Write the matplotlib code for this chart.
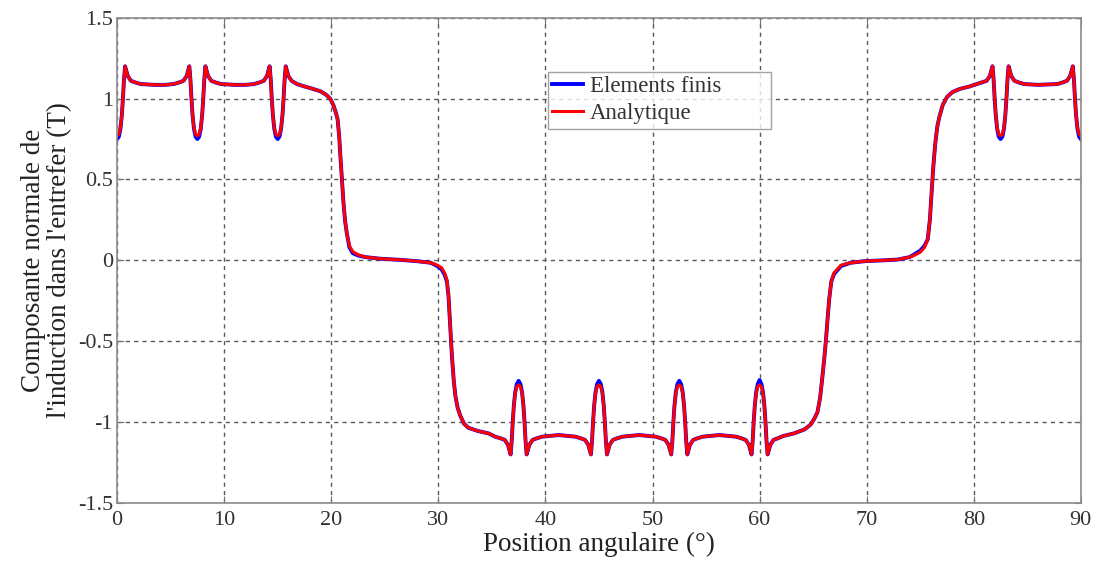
import matplotlib.pyplot as plt

# angular position (deg)
x_a = [0, 0.17, 0.32, 0.45, 0.55, 0.65, 0.75, 1.0, 1.3, 1.7, 2.2, 3.5, 4.5]
y_a = [0.77, 0.78, 0.82, 0.90, 1.00, 1.12, 1.20, 1.14, 1.11, 1.10, 1.09, 1.085, 1.085]
f_a = [0.75, 0.765, 0.815, 0.90, 1.00, 1.12, 1.20, 1.14, 1.11, 1.10, 1.09, 1.085, 1.085]

x_b = [5.3, 5.8, 6.2, 6.5, 6.75, 6.85, 6.95, 7.05, 7.18, 7.33, 7.5, 7.67, 7.82, 7.95, 8.05, 8.15, 8.25, 8.5, 8.8, 9.2, 9.7, 11.0, 12.0]
y_b = [1.09, 1.10, 1.11, 1.14, 1.20, 1.12, 1.00, 0.90, 0.82, 0.78, 0.77, 0.78, 0.82, 0.90, 1.00, 1.12, 1.20, 1.14, 1.11, 1.10, 1.09, 1.085, 1.085]
f_b = [1.09, 1.10, 1.11, 1.14, 1.20, 1.12, 1.00, 0.90, 0.815, 0.765, 0.75, 0.765, 0.815, 0.90, 1.00, 1.12, 1.20, 1.14, 1.11, 1.10, 1.09, 1.085, 1.085]

x_c = [12.8, 13.3, 13.7, 14.0, 14.25, 14.35, 14.45, 14.55, 14.68, 14.83, 15.0, 15.17, 15.32, 15.45, 15.55, 15.65, 15.75, 16.0, 16.3]
y_c = [1.09, 1.10, 1.11, 1.14, 1.20, 1.12, 1.00, 0.90, 0.82, 0.78, 0.77, 0.78, 0.82, 0.90, 1.00, 1.12, 1.20, 1.14, 1.11]
f_c = [1.09, 1.10, 1.11, 1.14, 1.20, 1.12, 1.00, 0.90, 0.815, 0.765, 0.75, 0.765, 0.815, 0.90, 1.00, 1.12, 1.20, 1.14, 1.11]

x_d = [16.8, 17.5, 18.3, 19.0, 19.5, 19.9, 20.2, 20.45, 20.6, 20.75, 20.85, 21.0, 21.15, 21.3, 21.45, 21.7, 22.0, 22.5, 23.2, 24.6, 26.5, 28.0]
y_d = [1.09, 1.075, 1.06, 1.045, 1.025, 1.0, 0.96, 0.91, 0.87, 0.76, 0.65, 0.5, 0.35, 0.24, 0.17, 0.09, 0.055, 0.035, 0.02, 0.01, 0.003, -0.005]
f_d = [1.09, 1.075, 1.06, 1.045, 1.025, 1.0, 0.96, 0.91, 0.87, 0.76, 0.65, 0.5, 0.35, 0.24, 0.17, 0.08, 0.045, 0.03, 0.02, 0.01, 0.003, -0.005]

x_e = [29.3, 29.9, 30.3, 30.6, 30.8, 30.95, 31.1, 31.27, 31.45, 31.6, 31.8, 32.05, 32.4, 32.8, 33.7, 34.7]
y_e = [-0.015, -0.03, -0.045, -0.08, -0.12, -0.22, -0.39, -0.59, -0.75, -0.84, -0.91, -0.96, -1.01, -1.035, -1.055, -1.07]
f_e = [-0.015, -0.035, -0.055, -0.09, -0.13, -0.22, -0.39, -0.59, -0.75, -0.84, -0.91, -0.96, -1.01, -1.035, -1.055, -1.07]

# negative plateau with four slot spikes (37.5, 45, 52.5, 60)
x_f = [35.3, 35.8, 36.2, 36.5, 36.75, 36.85, 36.95, 37.05, 37.18, 37.33, 37.5, 37.67, 37.82, 37.95, 38.05, 38.15, 38.25, 38.5, 38.8, 39.2, 39.7, 41.25,
       42.8, 43.3, 43.7, 44.0, 44.25, 44.35, 44.45, 44.55, 44.68, 44.83, 45.0, 45.17, 45.32, 45.45, 45.55, 45.65, 45.75, 46.0, 46.3, 46.7, 47.2, 48.75,
       50.3, 50.8, 51.2, 51.5, 51.75, 51.85, 51.95, 52.05, 52.18, 52.33, 52.5, 52.67, 52.82, 52.95, 53.05, 53.15, 53.25, 53.5, 53.8, 54.2, 54.7, 56.25,
       57.8, 58.3, 58.7, 59.0, 59.25, 59.35, 59.45, 59.55, 59.68, 59.83, 60.0, 60.17, 60.32, 60.45, 60.55, 60.65, 60.75, 61.0, 61.3]
y_f = [-1.09, -1.10, -1.11, -1.14, -1.20, -1.12, -1.00, -0.90, -0.82, -0.78, -0.77, -0.78, -0.82, -0.90, -1.00, -1.12, -1.20, -1.14, -1.11, -1.10, -1.09, -1.08,
       -1.09, -1.10, -1.11, -1.14, -1.20, -1.12, -1.00, -0.90, -0.82, -0.78, -0.77, -0.78, -0.82, -0.90, -1.00, -1.12, -1.20, -1.14, -1.11, -1.10, -1.09, -1.08,
       -1.09, -1.10, -1.11, -1.14, -1.20, -1.12, -1.00, -0.90, -0.82, -0.78, -0.77, -0.78, -0.82, -0.90, -1.00, -1.12, -1.20, -1.14, -1.11, -1.10, -1.09, -1.08,
       -1.09, -1.10, -1.11, -1.14, -1.20, -1.12, -1.00, -0.90, -0.82, -0.78, -0.77, -0.78, -0.82, -0.90, -1.00, -1.12, -1.20, -1.14, -1.11]
f_f = [-1.09, -1.10, -1.11, -1.14, -1.20, -1.12, -1.00, -0.90, -0.815, -0.765, -0.745, -0.765, -0.815, -0.90, -1.00, -1.12, -1.20, -1.14, -1.11, -1.10, -1.09, -1.08,
       -1.09, -1.10, -1.11, -1.14, -1.20, -1.12, -1.00, -0.90, -0.815, -0.765, -0.745, -0.765, -0.815, -0.90, -1.00, -1.12, -1.20, -1.14, -1.11, -1.10, -1.09, -1.08,
       -1.09, -1.10, -1.11, -1.14, -1.20, -1.12, -1.00, -0.90, -0.815, -0.765, -0.745, -0.765, -0.815, -0.90, -1.00, -1.12, -1.20, -1.14, -1.11, -1.10, -1.09, -1.08,
       -1.09, -1.10, -1.11, -1.14, -1.20, -1.12, -1.00, -0.90, -0.815, -0.765, -0.74, -0.765, -0.815, -0.90, -1.00, -1.12, -1.20, -1.14, -1.11]

x_g = [61.7, 62.2, 63.2, 64.2, 64.77, 65.1, 65.4, 65.65, 65.85, 66.05, 66.2, 66.35, 66.5, 66.7, 66.95, 67.6, 68.5, 69.8, 71.5, 72.9, 74.0, 74.4,
       75.0, 75.4, 75.7, 75.9, 76.05, 76.2, 76.4, 76.6, 76.8, 77.1, 77.5, 78.0, 78.7, 79.6, 80.3]
y_g = [-1.10, -1.086, -1.07, -1.045, -1.015, -0.98, -0.94, -0.85, -0.73, -0.6, -0.49, -0.36, -0.24, -0.13, -0.077, -0.03, -0.015, -0.005, 0.0, 0.005, 0.02, 0.03,
       0.05, 0.08, 0.13, 0.25, 0.4, 0.56, 0.72, 0.83, 0.89, 0.96, 1.01, 1.04, 1.06, 1.075, 1.09]
f_g = [-1.10, -1.086, -1.07, -1.045, -1.015, -0.98, -0.94, -0.85, -0.73, -0.6, -0.49, -0.36, -0.24, -0.13, -0.085, -0.035, -0.015, -0.005, 0.0, 0.005, 0.02, 0.035,
       0.06, 0.09, 0.13, 0.25, 0.4, 0.56, 0.72, 0.83, 0.89, 0.96, 1.01, 1.04, 1.06, 1.075, 1.09]

x_h = [80.8, 81.2, 81.5, 81.75, 81.85, 81.95, 82.05, 82.18, 82.33, 82.5, 82.67, 82.82, 82.95, 83.05, 83.15, 83.25, 83.5, 83.8, 84.2, 84.7, 86.0,
       87.8, 88.3, 88.7, 89.0, 89.25, 89.35, 89.45, 89.55, 89.68, 89.83, 90.0]
y_h = [1.10, 1.11, 1.14, 1.20, 1.12, 1.00, 0.90, 0.82, 0.78, 0.77, 0.78, 0.82, 0.90, 1.00, 1.12, 1.20, 1.14, 1.11, 1.10, 1.09, 1.085,
       1.09, 1.10, 1.11, 1.14, 1.20, 1.12, 1.00, 0.90, 0.82, 0.78, 0.77]
f_h = [1.10, 1.11, 1.14, 1.20, 1.12, 1.00, 0.90, 0.815, 0.765, 0.75, 0.765, 0.815, 0.90, 1.00, 1.12, 1.20, 1.14, 1.11, 1.10, 1.09, 1.085,
       1.09, 1.10, 1.11, 1.14, 1.20, 1.12, 1.00, 0.90, 0.815, 0.765, 0.75]

angle = x_a + x_b + x_c + x_d + x_e + x_f + x_g + x_h
b_analytic = y_a + y_b + y_c + y_d + y_e + y_f + y_g + y_h
b_fe = f_a + f_b + f_c + f_d + f_e + f_f + f_g + f_h

xticks = list(range(0, 91, 10))
yticks = [-1.5, -1, -0.5, 0, 0.5, 1, 1.5]
ytick_labels = ['-1.5', '-1', '-0.5', '0', '0.5', '1', '1.5']

plt.rcParams['font.family'] = ['Liberation Serif', 'DejaVu Serif']

fig = plt.figure(figsize=(10.99, 5.61), dpi=100)
ax = fig.add_axes([0.1065, 0.1034, 0.877, 0.865])

ax.plot(angle, b_fe, color='#0000ff', lw=2.8, label='Elements finis')
ax.plot(angle, b_analytic, color='#ff0000', lw=2.2, label='Analytique')

ax.set_xlim(0, 90)
ax.set_ylim(-1.5, 1.5)
ax.set_xticks(xticks)
ax.set_yticks(yticks)
ax.set_yticklabels(ytick_labels)
ax.grid(True, color='0.35', linestyle=(0, (3, 3)), lw=1.0)
ax.tick_params(direction='in', top=True, right=True, length=5, width=0.8,
               labelsize=16, colors='0.45', labelcolor='#333333')
ax.tick_params(axis='x', pad=6)
ax.tick_params(axis='y', pad=3)
for s in ax.spines.values():
    s.set_color('0.55')
    s.set_linewidth(1.2)

ax.set_xlabel('Position angulaire (°)', fontsize=19.5, color='#222222', labelpad=1)
ax.set_ylabel("Composante normale de\nl'induction dans l'entrefer (T)", fontsize=19.5,
              color='#222222', linespacing=1.05, labelpad=4)

# matlab style legend box, wider than its text
leg = ax.legend(loc='upper left', bbox_to_anchor=(0.447, 0.5, 0.232, 0.389), mode='expand',
                fontsize=16.5, fancybox=False, edgecolor='0.55', handlelength=1.35,
                borderpad=0.2, labelspacing=0.25, handletextpad=0.3, borderaxespad=0)
leg.get_frame().set_linewidth(1.0)
for t in leg.get_texts():
    t.set_color('#333333')

fig.savefig('out.png', dpi=100)
